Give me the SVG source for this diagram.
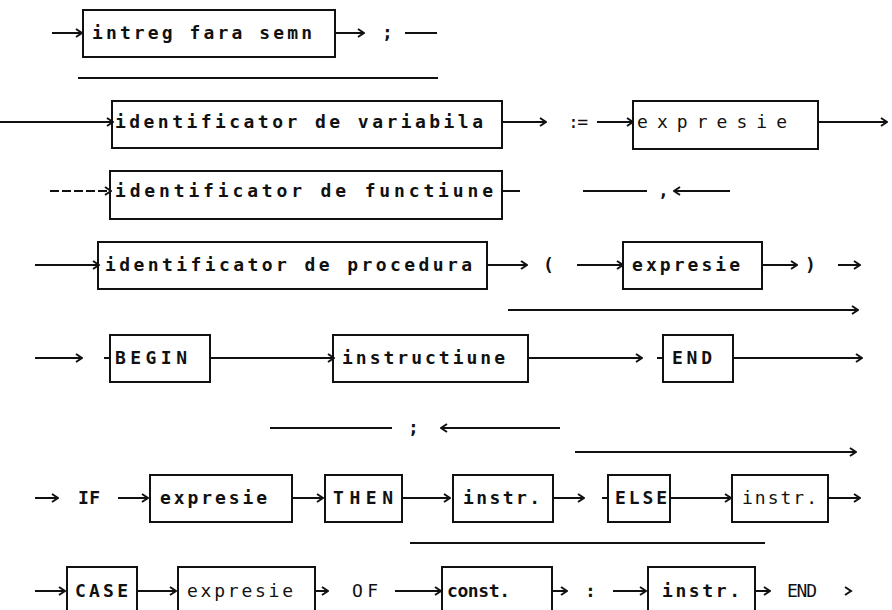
<svg xmlns="http://www.w3.org/2000/svg" width="892" height="610" viewBox="0 0 892 610">
<defs>
<style>
.box{fill:none;stroke:#111;stroke-width:2}
.ln{stroke:#111;stroke-width:2;fill:none}
.t{font-family:"DejaVu Sans Mono","Liberation Mono",monospace;font-size:18px;font-weight:bold;fill:#111}
.tl{font-family:"DejaVu Sans Mono","Liberation Mono",monospace;font-size:18px;font-weight:normal;fill:#111}
</style>
<marker id="ar" viewBox="0 0 8 10" refX="7" refY="5" markerWidth="8" markerHeight="10" markerUnits="userSpaceOnUse" orient="auto">
<path d="M1,1 L7,5 L1,9" fill="none" stroke="#111" stroke-width="2"/>
</marker>
<marker id="al" viewBox="0 0 8 10" refX="1" refY="5" markerWidth="8" markerHeight="10" markerUnits="userSpaceOnUse" orient="0">
<path d="M7,1 L1,5 L7,9" fill="none" stroke="#111" stroke-width="2"/>
</marker>
</defs>
<rect width="892" height="610" fill="#fff"/>

<g id="connectors">
<!-- row 1 -->
<line class="ln" x1="52" y1="33" x2="82" y2="33" marker-end="url(#ar)"/>
<line class="ln" x1="335" y1="33" x2="364" y2="33" marker-end="url(#ar)"/>
<line class="ln" x1="405" y1="33" x2="437" y2="33"/>
<line class="ln" x1="78" y1="78" x2="438" y2="78"/>
<!-- row 2 -->
<line class="ln" x1="0" y1="122" x2="113" y2="122" marker-end="url(#ar)"/>
<line class="ln" x1="502" y1="122" x2="546" y2="122" marker-end="url(#ar)"/>
<line class="ln" x1="597" y1="122" x2="633" y2="122" marker-end="url(#ar)"/>
<line class="ln" x1="818" y1="122" x2="887" y2="122" marker-end="url(#ar)"/>
<!-- row 3 -->
<line class="ln" x1="50" y1="191" x2="111" y2="191" stroke-dasharray="9,3" marker-end="url(#ar)"/>
<line class="ln" x1="502" y1="191" x2="520" y2="191"/>
<line class="ln" x1="583" y1="191" x2="647" y2="191"/>
<line class="ln" x1="674" y1="191" x2="730" y2="191" marker-start="url(#al)"/>
<!-- row 4 -->
<line class="ln" x1="35" y1="265" x2="99" y2="265" marker-end="url(#ar)"/>
<line class="ln" x1="487" y1="265" x2="527" y2="265" marker-end="url(#ar)"/>
<line class="ln" x1="577" y1="265" x2="623" y2="265" marker-end="url(#ar)"/>
<line class="ln" x1="762" y1="265" x2="797" y2="265" marker-end="url(#ar)"/>
<line class="ln" x1="838" y1="265" x2="860" y2="265" marker-end="url(#ar)"/>
<line class="ln" x1="508" y1="310" x2="858" y2="310" marker-end="url(#ar)"/>
<!-- row 5 -->
<line class="ln" x1="35" y1="358" x2="82" y2="358" marker-end="url(#ar)"/>
<line class="ln" x1="104" y1="358" x2="110" y2="358"/>
<line class="ln" x1="210" y1="358" x2="334" y2="358" marker-end="url(#ar)"/>
<line class="ln" x1="528" y1="358" x2="642" y2="358" marker-end="url(#ar)"/>
<line class="ln" x1="657" y1="358" x2="663" y2="358"/>
<line class="ln" x1="733" y1="358" x2="862" y2="358" marker-end="url(#ar)"/>
<!-- semicolon loop -->
<line class="ln" x1="270" y1="428" x2="392" y2="428"/>
<line class="ln" x1="441" y1="428" x2="560" y2="428" marker-start="url(#al)"/>
<!-- row 6 -->
<line class="ln" x1="575" y1="452" x2="856" y2="452" marker-end="url(#ar)"/>
<line class="ln" x1="35" y1="498" x2="58" y2="498" marker-end="url(#ar)"/>
<line class="ln" x1="118" y1="498" x2="148" y2="498" marker-end="url(#ar)"/>
<line class="ln" x1="292" y1="498" x2="323" y2="498" marker-end="url(#ar)"/>
<line class="ln" x1="402" y1="498" x2="450" y2="498" marker-end="url(#ar)"/>
<line class="ln" x1="553" y1="498" x2="584" y2="498" marker-end="url(#ar)"/>
<line class="ln" x1="602" y1="498" x2="608" y2="498"/>
<line class="ln" x1="670" y1="498" x2="731" y2="498" marker-end="url(#ar)"/>
<line class="ln" x1="828" y1="498" x2="860" y2="498" marker-end="url(#ar)"/>
<line class="ln" x1="410" y1="543" x2="765" y2="543"/>
<!-- row 7 -->
<line class="ln" x1="35" y1="591" x2="65" y2="591" marker-end="url(#ar)"/>
<line class="ln" x1="137" y1="591" x2="176" y2="591" marker-end="url(#ar)"/>
<line class="ln" x1="315" y1="591" x2="328" y2="591" marker-end="url(#ar)"/>
<line class="ln" x1="395" y1="591" x2="441" y2="591" marker-end="url(#ar)"/>
<line class="ln" x1="552" y1="591" x2="567" y2="591" marker-end="url(#ar)"/>
<line class="ln" x1="613" y1="591" x2="646" y2="591" marker-end="url(#ar)"/>
<line class="ln" x1="755" y1="591" x2="770" y2="591" marker-end="url(#ar)"/>
<path class="ln" d="M845,587 L851,591 L845,595" stroke-width="1.5"/>
</g>

<g id="n-intreg"><rect class="box" x="83" y="10" width="252" height="47"/><text class="t" x="92" y="39" textLength="220" lengthAdjust="spacing">intreg fara semn</text></g>
<g id="l-semi1"><text class="t" x="382" y="39">;</text></g>

<g id="n-idvar"><rect class="box" x="112" y="101" width="390" height="47"/><text class="t" x="115" y="128" textLength="368" lengthAdjust="spacing">identificator de variabila</text></g>
<g id="l-assign"><text class="tl" x="568" y="128" textLength="20" lengthAdjust="spacing">:=</text></g>
<g id="n-expr1"><rect class="box" x="633" y="101" width="185" height="48"/><text class="tl" x="637" y="128" textLength="150" lengthAdjust="spacing">expresie</text></g>

<g id="n-idfunc"><rect class="box" x="110" y="171" width="392" height="48"/><text class="t" x="115" y="197" textLength="378" lengthAdjust="spacing">identificator de functiune</text></g>
<g id="l-comma"><text class="t" x="658" y="197">,</text></g>

<g id="n-idproc"><rect class="box" x="98" y="242" width="389" height="47"/><text class="t" x="105" y="271" textLength="367" lengthAdjust="spacing">identificator de procedura</text></g>
<g id="l-lpar"><text class="t" x="543" y="271">(</text></g>
<g id="n-expr2"><rect class="box" x="623" y="242" width="139" height="47"/><text class="t" x="632" y="271" textLength="108" lengthAdjust="spacing">expresie</text></g>
<g id="l-rpar"><text class="t" x="805" y="271">)</text></g>

<g id="n-begin"><rect class="box" x="110" y="335" width="100" height="47"/><text class="t" x="115" y="364" textLength="72" lengthAdjust="spacing">BEGIN</text></g>
<g id="n-instr"><rect class="box" x="333" y="335" width="195" height="47"/><text class="t" x="342" y="364" textLength="163" lengthAdjust="spacing">instructiune</text></g>
<g id="n-end"><rect class="box" x="663" y="335" width="70" height="47"/><text class="t" x="672" y="364" textLength="40" lengthAdjust="spacing">END</text></g>
<g id="l-semi2"><text class="t" x="408" y="434">;</text></g>

<g id="l-if"><text class="t" x="78" y="504" textLength="22" lengthAdjust="spacing">IF</text></g>
<g id="n-expr3"><rect class="box" x="150" y="475" width="142" height="47"/><text class="t" x="160" y="504" textLength="107" lengthAdjust="spacing">expresie</text></g>
<g id="n-then"><rect class="box" x="325" y="475" width="77" height="47"/><text class="t" x="333" y="504" textLength="60" lengthAdjust="spacing">THEN</text></g>
<g id="n-instr1"><rect class="box" x="453" y="475" width="100" height="47"/><text class="t" x="463" y="504" textLength="77" lengthAdjust="spacing">instr.</text></g>
<g id="n-else"><rect class="box" x="608" y="475" width="62" height="47"/><text class="t" x="615" y="504" textLength="52" lengthAdjust="spacing">ELSE</text></g>
<g id="n-instr2"><rect class="box" x="732" y="475" width="96" height="47"/><text class="tl" x="742" y="504" textLength="75" lengthAdjust="spacing">instr.</text></g>

<g id="n-case"><rect class="box" x="67" y="567" width="70" height="55"/><text class="t" x="75" y="597" textLength="53" lengthAdjust="spacing">CASE</text></g>
<g id="n-expr4"><rect class="box" x="178" y="567" width="137" height="55"/><text class="tl" x="187" y="597" textLength="106" lengthAdjust="spacing">expresie</text></g>
<g id="l-of"><text class="tl" x="352" y="597" textLength="26" lengthAdjust="spacing">OF</text></g>
<g id="n-const"><rect class="box" x="442" y="567" width="110" height="55"/><text class="t" x="447" y="597" textLength="63" lengthAdjust="spacing">const.</text></g>
<g id="l-colon"><text class="t" x="585" y="597">:</text></g>
<g id="n-instr3"><rect class="box" x="648" y="567" width="107" height="55"/><text class="t" x="662" y="597" textLength="78" lengthAdjust="spacing">instr.</text></g>
<g id="l-end2"><text class="tl" x="787" y="597" textLength="30" lengthAdjust="spacing">END</text></g>
</svg>
